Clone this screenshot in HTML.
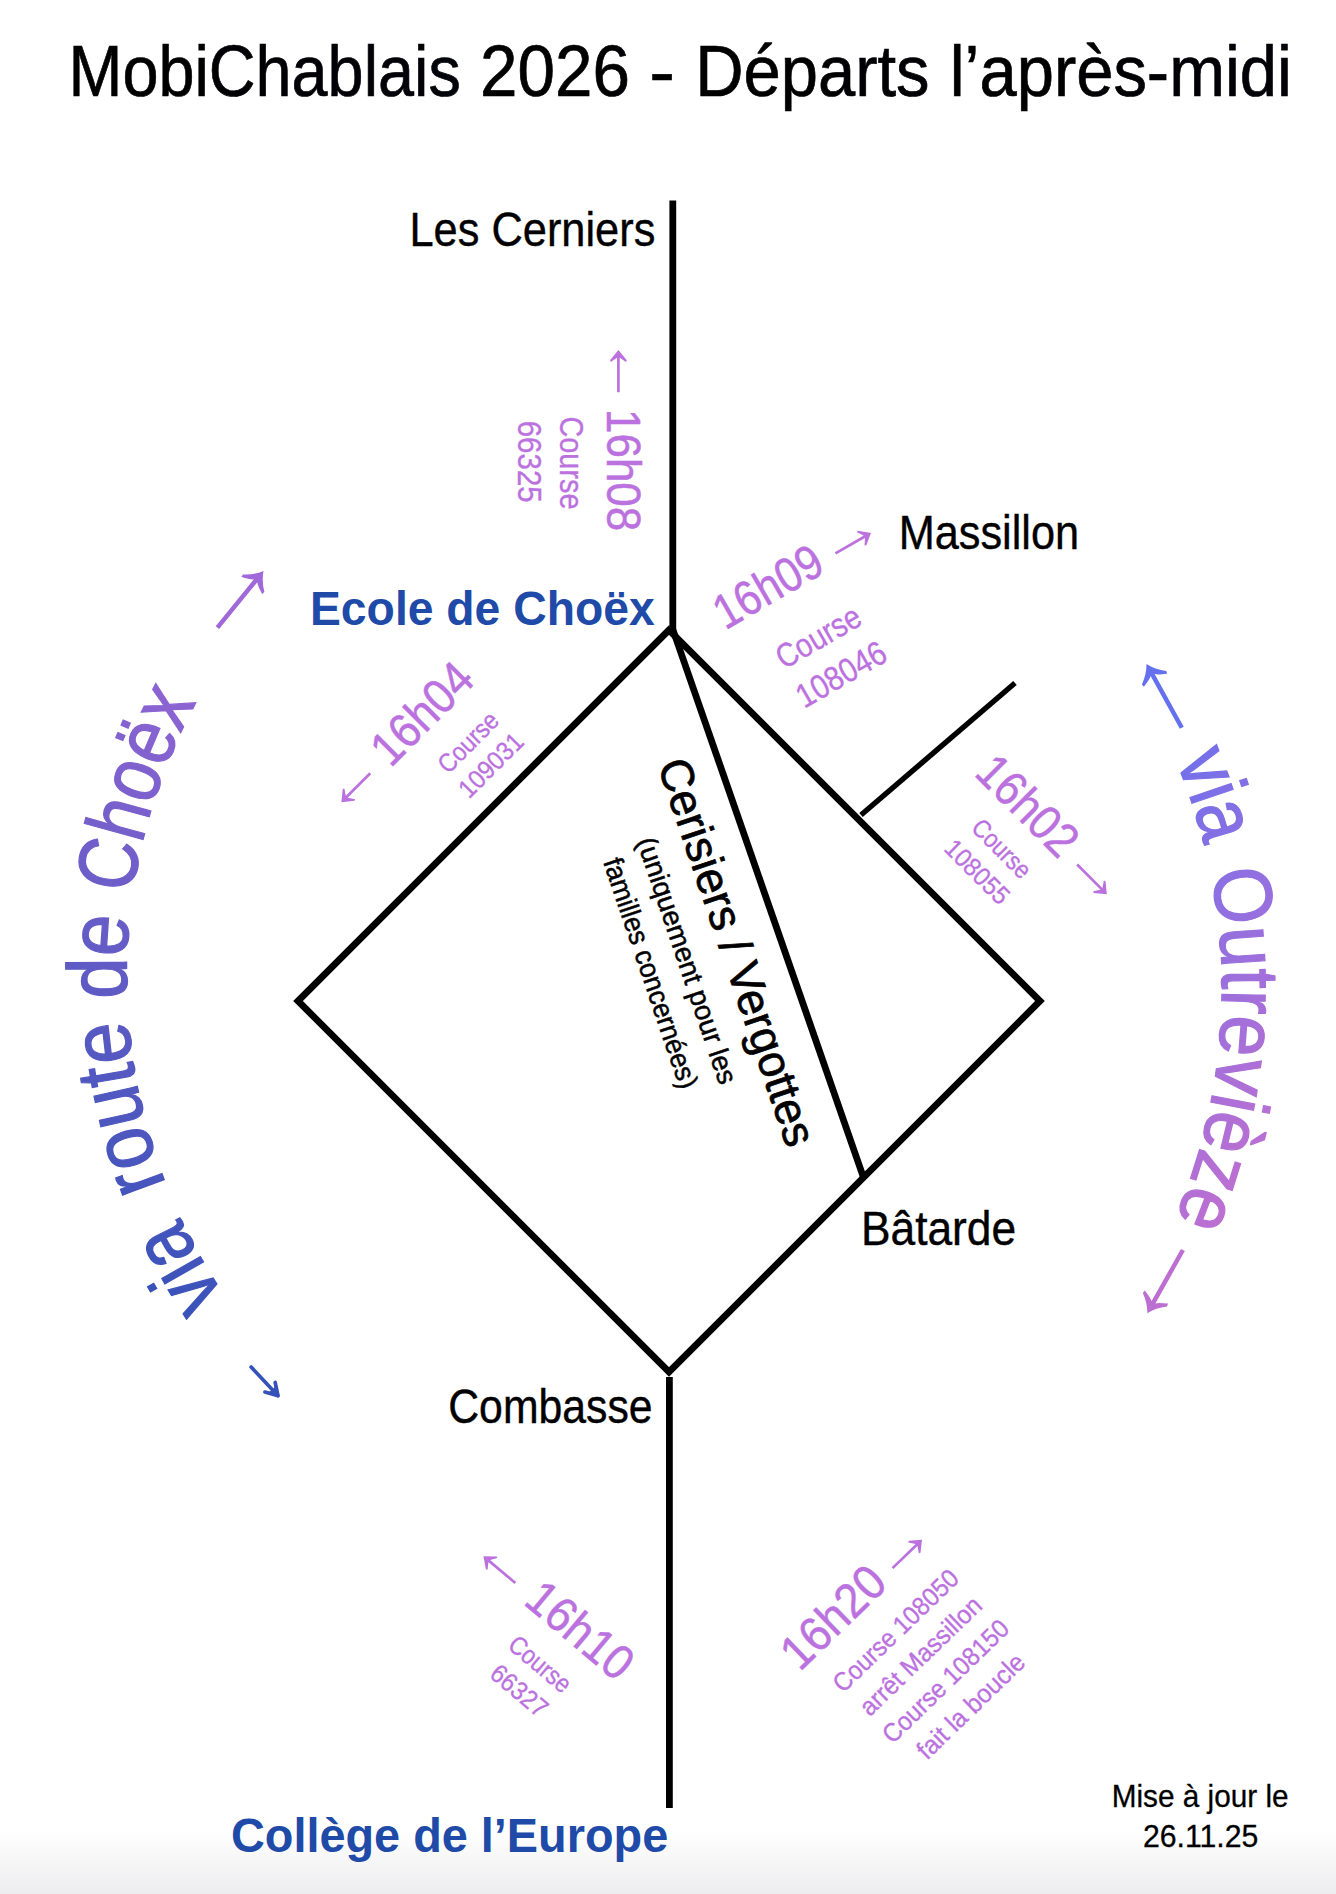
<!DOCTYPE html>
<html><head><meta charset="utf-8">
<style>
html,body{margin:0;padding:0;background:#fff;width:1336px;height:1894px;overflow:hidden}
svg{display:block}
text{font-family:"Liberation Sans",sans-serif}
</style></head><body>
<svg width="1336" height="1894" viewBox="0 0 1336 1894">
<defs>
<linearGradient id="bot" x1="0" y1="1830" x2="0" y2="1894" gradientUnits="userSpaceOnUse">
<stop offset="0" stop-color="#ffffff"/><stop offset="1" stop-color="#ededef"/>
</linearGradient>
<linearGradient id="tg" x1="70" y1="0" x2="1290" y2="0" gradientUnits="userSpaceOnUse">
<stop offset="0" stop-color="#000000"/><stop offset="1" stop-color="#0b0b26"/>
</linearGradient>
<linearGradient id="lg" x1="250" y1="1380" x2="600.3" y2="818.7" gradientUnits="userSpaceOnUse">
<stop offset="0" stop-color="#3552b8"/><stop offset="1" stop-color="#a068d8"/>
</linearGradient>
<linearGradient id="rg" x1="1165" y1="690" x2="1457" y2="921.8" gradientUnits="userSpaceOnUse">
<stop offset="0" stop-color="#6570ef"/><stop offset="1" stop-color="#bd6fd1"/>
</linearGradient>
<path id="larc" d="M 294.1 1380.1 A 571.6 571.6 0 0 1 294.1 571.7"/>
<path id="rarc" d="M 1050 573.5 A 587 587 0 0 1 1050 1403.7"/>
</defs>
<rect x="0" y="1830" width="1336" height="64" fill="url(#bot)"/>

<g stroke="#000" stroke-width="6.8" fill="none" stroke-linecap="butt">
<line x1="672.8" y1="200.5" x2="672.8" y2="633"/>
<path d="M 669 630 L 298 1001 L 669 1372 L 1040 1001 Z" stroke-linejoin="miter"/>
<line x1="673" y1="630" x2="864" y2="1179"/>
<line x1="669.4" y1="1377" x2="669.4" y2="1808"/>
<line x1="861" y1="815" x2="1015" y2="683" stroke-width="5.4"/>
</g>

<text transform="translate(68.5,95.9)" font-size="72.7" fill="url(#tg)" stroke="url(#tg)" stroke-width="0.7" textLength="392.29" lengthAdjust="spacingAndGlyphs">MobiChablais</text>
<text transform="translate(480.1,95.9)" font-size="72.7" fill="url(#tg)" stroke="url(#tg)" stroke-width="0.7" textLength="149.86" lengthAdjust="spacingAndGlyphs">2026</text>
<text transform="translate(649.3,95.9)" font-size="72.7" fill="url(#tg)" stroke="url(#tg)" stroke-width="0.7" textLength="25.68" lengthAdjust="spacingAndGlyphs">-</text>
<text transform="translate(695.2,95.9)" font-size="72.7" fill="url(#tg)" stroke="url(#tg)" stroke-width="0.7" textLength="234.26" lengthAdjust="spacingAndGlyphs">Départs</text>
<text transform="translate(949.7,95.9)" font-size="72.7" fill="url(#tg)" stroke="url(#tg)" stroke-width="0.7" textLength="342.14" lengthAdjust="spacingAndGlyphs">l’après-midi</text>
<text transform="translate(409.5,245.8)" font-size="48" fill="#000" stroke="#000" stroke-width="0.4" textLength="245.81" lengthAdjust="spacingAndGlyphs">Les Cerniers</text>
<text transform="translate(898.7,549)" font-size="49" fill="#000" stroke="#000" stroke-width="0.4" textLength="180.41" lengthAdjust="spacingAndGlyphs">Massillon</text>
<text transform="translate(860.9,1244.7)" font-size="48.3" fill="#000" stroke="#000" stroke-width="0.4" textLength="155.29" lengthAdjust="spacingAndGlyphs">Bâtarde</text>
<text transform="translate(448.2,1423.2)" font-size="48" fill="#000" stroke="#000" stroke-width="0.4" textLength="204.45" lengthAdjust="spacingAndGlyphs">Combasse</text>
<text transform="translate(310.0,624.9)" font-size="49" font-weight="bold" fill="#204aa8" textLength="344.69" lengthAdjust="spacingAndGlyphs">Ecole de Choëx</text>
<text transform="translate(231.0,1851.8)" font-size="48" font-weight="bold" fill="#204aa8" textLength="437.2" lengthAdjust="spacingAndGlyphs">Collège de l’Europe</text>
<text transform="translate(1111.7,1806.6)" font-size="31.7" fill="#000" stroke="#000" stroke-width="0.3" textLength="176.85" lengthAdjust="spacingAndGlyphs">Mise à jour le</text>
<text transform="translate(1142.9,1846.9)" font-size="31.8" fill="#000" stroke="#000" stroke-width="0.3" textLength="115.5" lengthAdjust="spacingAndGlyphs">26.11.25</text>
<text transform="rotate(90) translate(409.1,-606.7)" font-size="48.6" fill="#bb72df" stroke="#bb72df" stroke-width="0.5" textLength="122.05" lengthAdjust="spacingAndGlyphs">16h08</text>
<text transform="rotate(90) translate(416.5,-560)" font-size="33.5" fill="#bb72df" stroke="#bb72df" stroke-width="0.35" textLength="92.99" lengthAdjust="spacingAndGlyphs">Course</text>
<text transform="rotate(90) translate(420.7,-517.8)" font-size="33.8" fill="#bb72df" stroke="#bb72df" stroke-width="0.35" textLength="82.03" lengthAdjust="spacingAndGlyphs">66325</text>
<text transform="rotate(-30) translate(312.8,908.5)" font-size="48.6" fill="#bb72df" stroke="#bb72df" stroke-width="0.5" textLength="117.88" lengthAdjust="spacingAndGlyphs">16h09</text>
<text transform="rotate(-30) translate(344.0,972)" font-size="33.5" fill="#bb72df" stroke="#bb72df" stroke-width="0.35" textLength="92.57" lengthAdjust="spacingAndGlyphs">Course</text>
<text transform="rotate(-30) translate(342.0,1016)" font-size="33.8" fill="#bb72df" stroke="#bb72df" stroke-width="0.35" textLength="98.41" lengthAdjust="spacingAndGlyphs">108046</text>
<text transform="rotate(-45) translate(-267.4,819.5)" font-size="48.6" fill="#bb72df" stroke="#bb72df" stroke-width="0.5" textLength="122.36" lengthAdjust="spacingAndGlyphs">16h04</text>
<text transform="rotate(-45) translate(-230.8,864.7)" font-size="26" fill="#bb72df" stroke="#bb72df" stroke-width="0.35" textLength="74.01" lengthAdjust="spacingAndGlyphs">Course</text>
<text transform="rotate(-45) translate(-233.7,897)" font-size="26" fill="#bb72df" stroke="#bb72df" stroke-width="0.35" textLength="79.52" lengthAdjust="spacingAndGlyphs">109031</text>
<text transform="rotate(45) translate(1235.7,-140.5)" font-size="48.6" fill="#bb72df" stroke="#bb72df" stroke-width="0.5" textLength="121.22" lengthAdjust="spacingAndGlyphs">16h02</text>
<text transform="rotate(45) translate(1272.2,-99.5)" font-size="25.5" fill="#bb72df" stroke="#bb72df" stroke-width="0.35" textLength="72.35" lengthAdjust="spacingAndGlyphs">Course</text>
<text transform="rotate(45) translate(1267.5,-65.8)" font-size="25.5" fill="#bb72df" stroke="#bb72df" stroke-width="0.35" textLength="79.92" lengthAdjust="spacingAndGlyphs">108055</text>
<text transform="rotate(40) translate(1430.7,892.5)" font-size="48.6" fill="#bb72df" stroke="#bb72df" stroke-width="0.5" textLength="123.32" lengthAdjust="spacingAndGlyphs">16h10</text>
<text transform="rotate(40) translate(1447.1,936.5)" font-size="26" fill="#bb72df" stroke="#bb72df" stroke-width="0.35" textLength="72.77" lengthAdjust="spacingAndGlyphs">Course</text>
<text transform="rotate(40) translate(1451.5,970.3)" font-size="26" fill="#bb72df" stroke="#bb72df" stroke-width="0.35" textLength="66.13" lengthAdjust="spacingAndGlyphs">66327</text>
<text transform="rotate(-44) translate(-586.4,1758.5)" font-size="48.6" fill="#bb72df" stroke="#bb72df" stroke-width="0.5" textLength="124.56" lengthAdjust="spacingAndGlyphs">16h20</text>
<text transform="rotate(-44) translate(-570.2,1804)" font-size="26" fill="#bb72df" stroke="#bb72df" stroke-width="0.35" textLength="163.47" lengthAdjust="spacingAndGlyphs">Course 108050</text>
<text transform="rotate(-44) translate(-567.3,1839.5)" font-size="26" fill="#bb72df" stroke="#bb72df" stroke-width="0.35" textLength="158.32" lengthAdjust="spacingAndGlyphs">arrêt Massillon</text>
<text transform="rotate(-44) translate(-570.1,1875)" font-size="26" fill="#bb72df" stroke="#bb72df" stroke-width="0.35" textLength="164.68" lengthAdjust="spacingAndGlyphs">Course 108150</text>
<text transform="rotate(-44) translate(-556.3,1910.5)" font-size="26" fill="#bb72df" stroke="#bb72df" stroke-width="0.35" textLength="138.94" lengthAdjust="spacingAndGlyphs">fait la boucle</text>
<text transform="rotate(71.3) translate(935.0,-377.3)" font-size="46" fill="#000" stroke="#000" stroke-width="0.7" textLength="406.11" lengthAdjust="spacingAndGlyphs">Cerisiers / Vergottes</text>
<text transform="rotate(71.3) translate(1000.8,-333.4)" font-size="28" fill="#000" stroke="#000" stroke-width="0.5" textLength="258.6" lengthAdjust="spacingAndGlyphs">(uniquement pour les</text>
<text transform="rotate(71.3) translate(1009.5,-294.9)" font-size="28" fill="#000" stroke="#000" stroke-width="0.5" textLength="241.68" lengthAdjust="spacingAndGlyphs">familles concernées)</text>
<path transform="rotate(90) translate(350.1,-618.4) rotate(180)" d="M0,0 L-10.2,-8.4 L-11.8,-7.6 L-7.6,-1.35 L-42.2,-1.35 L-42.2,1.35 L-7.6,1.35 L-11.8,7.6 L-10.2,8.4 Z" fill="#bb72df"/>
<path transform="rotate(-30) translate(487.8,897) rotate(0)" d="M0,0 L-10.2,-8.4 L-11.8,-7.6 L-7.6,-1.35 L-41.0,-1.35 L-41.0,1.35 L-7.6,1.35 L-11.8,7.6 L-10.2,8.4 Z" fill="#bb72df"/>
<path transform="rotate(-45) translate(-325.8,808.6) rotate(180)" d="M0,0 L-10.2,-8.4 L-11.8,-7.6 L-7.6,-1.35 L-40.8,-1.35 L-40.8,1.35 L-7.6,1.35 L-11.8,7.6 L-10.2,8.4 Z" fill="#bb72df"/>
<path transform="rotate(45) translate(1415,-150.3) rotate(0)" d="M0,0 L-10.2,-8.4 L-11.8,-7.6 L-7.6,-1.35 L-42.0,-1.35 L-42.0,1.35 L-7.6,1.35 L-11.8,7.6 L-10.2,8.4 Z" fill="#bb72df"/>
<path transform="rotate(40) translate(1370.7,881.4) rotate(180)" d="M0,0 L-10.2,-8.4 L-11.8,-7.6 L-7.6,-1.35 L-41.6,-1.35 L-41.6,1.35 L-7.6,1.35 L-11.8,7.6 L-10.2,8.4 Z" fill="#bb72df"/>
<path transform="rotate(-44) translate(-406.3,1748) rotate(0)" d="M0,0 L-10.2,-8.4 L-11.8,-7.6 L-7.6,-1.35 L-41.0,-1.35 L-41.0,1.35 L-7.6,1.35 L-11.8,7.6 L-10.2,8.4 Z" fill="#bb72df"/>
<path transform="translate(1146.5,664) rotate(-118.96)" d="M0,0 Q-9,4.85 -15.6,13.9 L-18.6,13.3 Q-14.65,3.83 -12.5,2.25 L-72.9,2.25 L-72.9,-2.25 L-12.5,-2.25 Q-14.65,-3.83 -18.6,-13.3 L-15.6,-13.9 Q-9,-4.85 0,0 Z" fill="#6570ef"/>
<path transform="translate(1147.3,1313.3) rotate(119.35)" d="M0,0 Q-9,4.85 -15.6,13.9 L-18.6,13.3 Q-14.65,3.83 -12.5,2.25 L-72.6,2.25 L-72.6,-2.25 L-12.5,-2.25 Q-14.65,-3.83 -18.6,-13.3 L-15.6,-13.9 Q-9,-4.85 0,0 Z" fill="#bd6fd1"/>
<path transform="translate(263.5,571.1) rotate(-50.84)" d="M0,0 Q-9,4.85 -15.6,13.9 L-18.6,13.3 Q-14.65,3.83 -12.5,2.25 L-73.0,2.25 L-73.0,-2.25 L-12.5,-2.25 Q-14.65,-3.83 -18.6,-13.3 L-15.6,-13.9 Q-9,-4.85 0,0 Z" fill="#a068d8"/>
<g transform="translate(279.8,1397.7) rotate(46.94)" stroke="#3552b8" stroke-width="3.7" stroke-linecap="round" stroke-linejoin="round" fill="#3552b8"><line x1="-42.0" y1="0" x2="-3" y2="0"/><polyline points="-14.3,7 -2.6,0 -14.3,-7" fill="none"/><path d="M-2.6,0 L-12,5 L-10.5,0 L-12,-5 Z" stroke="none"/></g>

<text font-size="84" fill="url(#lg)" stroke="url(#lg)" stroke-width="1.3"><textPath href="#larc" startOffset="109.7" textLength="89.8" lengthAdjust="spacingAndGlyphs">via</textPath></text>
<text font-size="84" fill="url(#lg)" stroke="url(#lg)" stroke-width="1.3"><textPath href="#larc" startOffset="235.4" textLength="169.6" lengthAdjust="spacingAndGlyphs">route</textPath></text>
<text font-size="84" fill="url(#lg)" stroke="url(#lg)" stroke-width="1.3"><textPath href="#larc" startOffset="426.0" textLength="82.8" lengthAdjust="spacingAndGlyphs">de</textPath></text>
<text font-size="84" fill="url(#lg)" stroke="url(#lg)" stroke-width="1.3"><textPath href="#larc" startOffset="530.7" textLength="203.5" lengthAdjust="spacingAndGlyphs">Choëx</textPath></text>
<text font-size="82" fill="url(#rg)" stroke="url(#rg)" stroke-width="1.3"><textPath href="#rarc" startOffset="226.4" textLength="90.2" lengthAdjust="spacingAndGlyphs">via</textPath></text>
<text font-size="82" fill="url(#rg)" stroke="url(#rg)" stroke-width="1.3"><textPath href="#rarc" startOffset="343.3" textLength="355.3" lengthAdjust="spacingAndGlyphs">Outrevièze</textPath></text>
</svg>
</body></html>
